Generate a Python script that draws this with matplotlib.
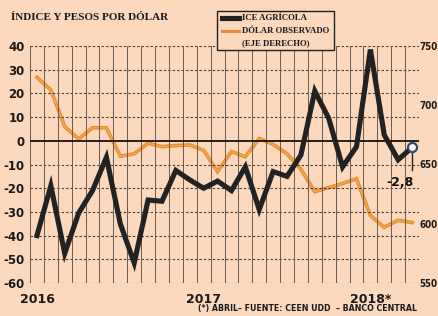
import numpy as np
import matplotlib
matplotlib.use("Agg")
import matplotlib.pyplot as plt
from matplotlib.lines import Line2D
from matplotlib.patches import Rectangle

# ---- data ----
months = list(range(28))  # Jan 2016 .. Apr 2018
ice_agricola = [-40, -19, -47.5, -30.5, -21, -7, -35, -51.5, -25, -25.5,
                -12.5, -16.5, -20, -17, -21, -11, -29, -13, -15, -6,
                21, 9.5, -11, -2.5, 38.5, 2.5, -8, -2.8]
dolar_observado = [723.5, 713, 682, 671.5, 681, 681, 657, 659, 668, 665,
                   666, 666.5, 662, 644, 661, 656.5, 672, 667, 659, 646,
                   627, 630.5, 634, 638, 607, 597, 603, 601]
left_ticks = [40, 30, 20, 10, 0, -10, -20, -30, -40, -50, -60]
right_ticks = [750, 700, 650, 600, 550]
year_pos = [0, 12, 24]
year_labels = ["2016", "2017", "2018*"]
last_label = "-2,8"

BG = "#FCD8BD"
sans = ["DejaVu Sans"]
serif = ["Liberation Serif", "DejaVu Serif"]

fig = plt.figure(figsize=(4.38, 3.16), dpi=100, facecolor=BG)
ax = fig.add_axes([30/438, 1-283/316, 389/438, 237/316])
ax.set_facecolor(BG)
ax.set_xlim(-0.5, 27.5)
ax.set_ylim(-60, 40)

ax2 = ax.twinx()
ax2.set_ylim(550, 750)

for s in list(ax.spines.values()) + list(ax2.spines.values()):
    s.set_visible(False)

# grid
for y in left_ticks:
    if y == 0:
        continue
    ax.axhline(y, color="#4a3f38", lw=0.8, ls=(0, (2.2, 1.8)), zorder=1)
for xb in np.arange(-0.5, 28, 1):
    ax.axvline(xb, color="#6a5a4e", lw=0.7, zorder=1)
ax.axhline(0, color="#111111", lw=1.3, zorder=2)

# series
ax2.plot(months, dolar_observado, color="#E9893A", lw=2.6, zorder=3,
         solid_joinstyle="miter")
ax2.plot(months, dolar_observado, color="#F2B43A", lw=0.8, zorder=3)
ax.set_zorder(ax2.get_zorder() + 1)
ax.patch.set_visible(False)
ax2.patch.set_visible(True)
ax2.patch.set_facecolor(BG)
ax.plot(months, ice_agricola, color="#222222", lw=3.7, zorder=4,
        solid_joinstyle="miter")

# last point marker & annotation
ax.plot([months[-1], months[-1]], [ice_agricola[-1], -12.5], color="#222222",
        lw=1.0, zorder=4)
ax.plot(months[-1], ice_agricola[-1], marker="o", ms=6.5, mfc="white",
        mec="#2c4a6e", mew=1.6, zorder=5)
ax.text(months[-1] - 0.85, -14.7, last_label, ha="center", va="top",
        fontsize=9, fontweight="bold", family=sans, color="#111111", zorder=6)

# ticks
ax.set_yticks(left_ticks)
ax.set_yticklabels([str(t) for t in left_ticks], fontsize=8.5,
                   fontweight="bold", family=sans, color="#1a1a1a")
ax.tick_params(axis="y", length=0, pad=4)
ax2.set_yticks(right_ticks)
ax2.set_yticklabels([str(t) for t in right_ticks], fontsize=7,
                    fontweight="bold", family=sans, fontstretch="condensed",
                    color="#1a1a1a")
ax2.tick_params(axis="y", length=0, pad=0.5)
ax.set_xticks(year_pos)
ax.set_xticklabels(year_labels, fontsize=9, fontweight="bold", family=sans,
                   color="#1a1a1a")
ax.tick_params(axis="x", length=0, pad=7)

# titles / notes
fig.text(11/438, 1-17/316, "ÍNDICE Y PESOS POR DÓLAR", ha="left",
         va="center", fontsize=8, fontweight="bold", family=serif,
         color="#1a1a1a")
fig.text(417/438, 1-309/316, "(*) ABRIL– FUENTE: CEEN UDD  – BANCO CENTRAL",
         ha="right", va="center", fontsize=6.3, fontweight="bold",
         family=sans, fontstretch="condensed", color="#1a1a1a")

# legend box
fig.patches.append(Rectangle((217/438, 1-50/316), 117/438, 39/316,
                             transform=fig.transFigure, facecolor=BG,
                             edgecolor="#222222", lw=1.0, zorder=10))
fig.add_artist(Line2D([222/438, 239/438], [1-18/316, 1-18/316],
                      color="#222222", lw=3.7, transform=fig.transFigure,
                      zorder=11))
fig.add_artist(Line2D([222/438, 239/438], [1-31/316, 1-31/316],
                      color="#E9893A", lw=2.2, transform=fig.transFigure,
                      zorder=11))
for yy, txt in [(18, "ICE AGRÍCOLA"), (31, "DÓLAR OBSERVADO"),
                (43, "(EJE DERECHO)")]:
    fig.text(242/438, 1-yy/316, txt, ha="left", va="center", fontsize=6.3,
             fontweight="bold", family=serif, color="#1a1a1a", zorder=12)

fig.savefig("out.png", dpi=100, facecolor=BG)
